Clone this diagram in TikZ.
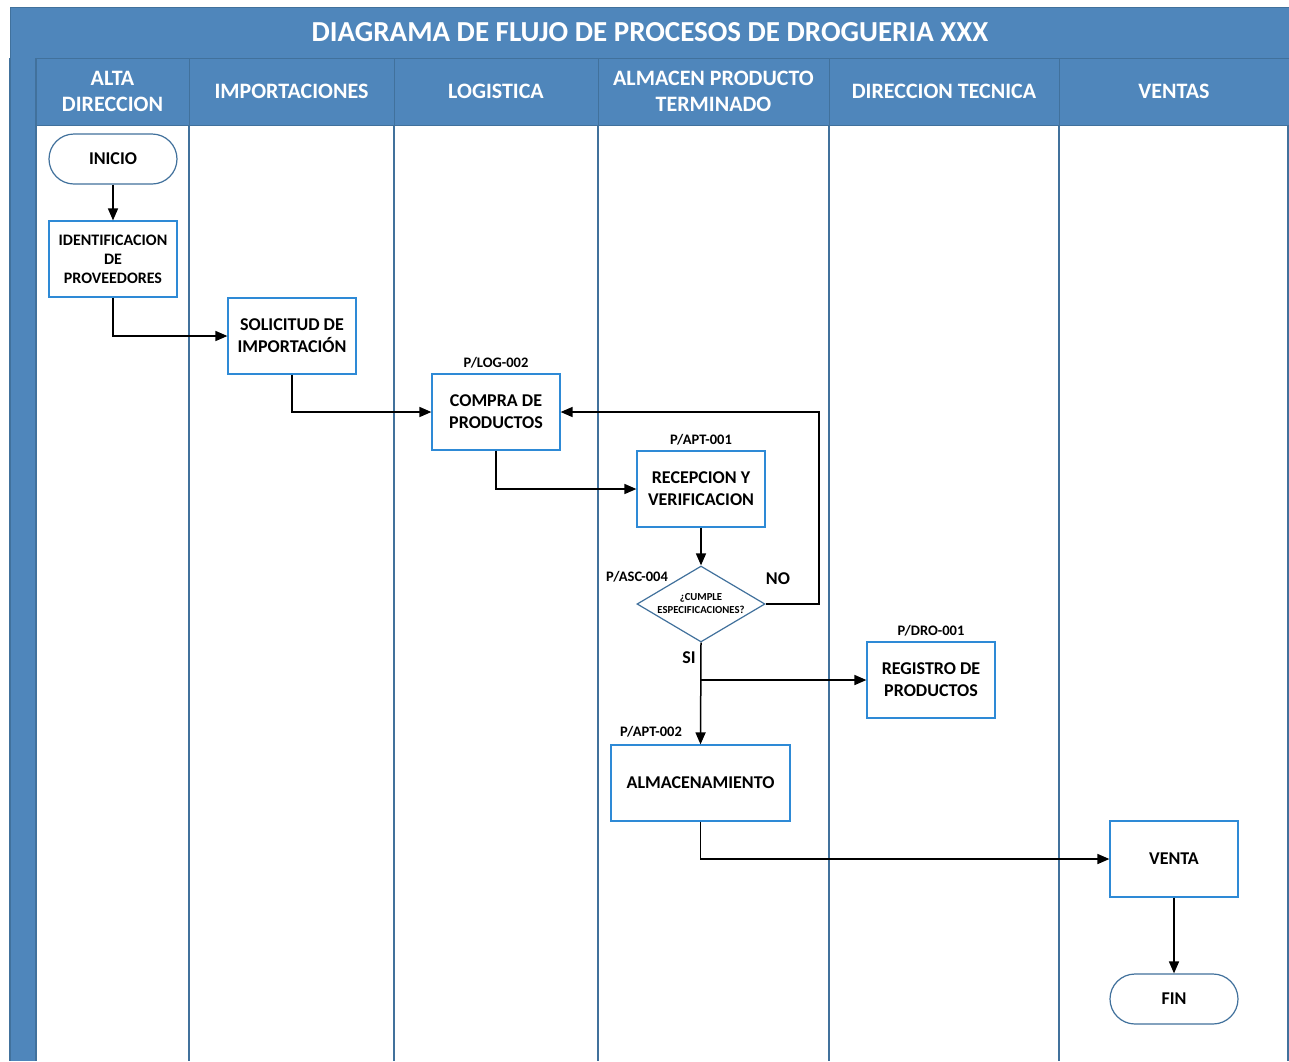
\documentclass[tikz,border=0pt]{standalone}
\usepackage{fontspec}
\setmainfont{Carlito}
\usetikzlibrary{arrows.meta,shapes.geometric}
\definecolor{lanefill}{HTML}{4F86BB}
\definecolor{laneedge}{HTML}{41719C}
\definecolor{boxedge}{HTML}{2E8AD6}
\begin{document}
\begin{tikzpicture}[x=1pt,y=-1pt,
  hdr/.style={fill=lanefill,draw=laneedge,line width=1pt,text=white,align=center,
    font=\bfseries\fontsize{22}{26}\selectfont,minimum height=67pt,inner sep=0pt},
  proc/.style={draw=boxedge,line width=1.2pt,fill=white,minimum width=128pt,
    minimum height=76pt,align=center,inner sep=2pt,
    font=\bfseries\fontsize{18}{22}\selectfont},
  term/.style={draw=laneedge,line width=1.2pt,fill=white,rounded corners=25pt,
    minimum width=128pt,minimum height=50pt,font=\bfseries\fontsize{18}{20}\selectfont},
  dec/.style={diamond,draw=laneedge,line width=1.2pt,fill=white,
    minimum width=128pt,minimum height=76pt,inner sep=0pt},
  code/.style={font=\bfseries\fontsize{14.5}{16}\selectfont,inner sep=0pt},
  arr/.style={line width=1.5pt,-{Triangle[length=12pt,width=10pt]}},
  lanesep/.style={draw=laneedge,line width=1.6pt}]
\useasboundingbox[fill=white] (0,0) rectangle (1289,1061);

% frame: title band and left strip
\fill[lanefill] (10,7) rectangle (1289,58);
\draw[laneedge,line width=1pt] (10,7) rectangle (1289,58);
\node[text=white,font=\bfseries\fontsize{29}{32}\selectfont] (title) at (650,32)
  {DIAGRAMA DE FLUJO DE PROCESOS DE DROGUERIA XXX};
\fill[lanefill] (10,58) rectangle (36,1061);
\draw[laneedge,line width=1.6pt] (10,58) -- (10,1061) (36,58) -- (36,1061);

% lane headers
\node[hdr,minimum width=153pt] (h1) at (112.5,91.5) {ALTA\\DIRECCION};
\node[hdr,minimum width=205pt] (h2) at (291.5,91.5) {IMPORTACIONES};
\node[hdr,minimum width=204pt] (h3) at (496,91.5) {LOGISTICA};
\node[hdr,minimum width=231pt] (h4) at (713.5,91.5) {ALMACEN PRODUCTO\\TERMINADO};
\node[hdr,minimum width=230pt] (h5) at (944,91.5) {DIRECCION TECNICA};
\node[hdr,minimum width=230pt] (h6) at (1174,91.5) {VENTAS};

% lane separators
\foreach \x in {189,394,598,829,1059,1288}
  \draw[lanesep] (\x,125) -- (\x,1061);

% flow nodes
\node[term] (inicio) at (113,159) {INICIO};
\node[proc,font=\bfseries\fontsize{16}{19}\selectfont] (ident) at (113,259)
  {IDENTIFICACION\\DE\\PROVEEDORES};
\node[proc] (solic) at (292,336) {SOLICITUD DE\\IMPORTACIÓN};
\node[proc] (compra) at (496,412) {COMPRA DE\\PRODUCTOS};
\node[proc] (recep) at (701,489) {RECEPCION Y\\VERIFICACION};
\node[dec,label={[font=\bfseries\fontsize{10.7}{13}\selectfont,align=center]center:¿CUMPLE\\ESPECIFICACIONES?}]
  (cumple) at (701,604) {};
\node[proc] (reg) at (931,680) {REGISTRO DE\\PRODUCTOS};
\node[proc,minimum width=179pt] (alm) at (700.5,783) {ALMACENAMIENTO};
\node[proc] (venta) at (1174,859) {VENTA};
\node[term] (fin) at (1174,999) {FIN};

% procedure codes and branch labels
\node[code] (c1) at (496,363) {P/LOG-002};
\node[code] (c2) at (701,440) {P/APT-001};
\node[code] (c3) at (637,577) {P/ASC-004};
\node[code] (c4) at (931,631) {P/DRO-001};
\node[code] (c5) at (651,732) {P/APT-002};
\node[font=\bfseries\fontsize{18}{20}\selectfont] (no) at (778,579) {NO};
\node[font=\bfseries\fontsize{18}{20}\selectfont] (si) at (689,658) {SI};

% connectors
\coordinate (loop) at (819,604);
\coordinate (split) at (701,680);
\draw[arr] (inicio) -- (ident);
\draw[arr] (ident.south) |- (solic.west);
\draw[arr] (solic.south) |- (compra.west);
\draw[arr] (compra.south) |- (recep.west);
\draw[arr] (recep) -- (cumple);
\draw[arr] (cumple.east) -- (loop) |- (compra.east);
\draw[arr] (cumple.south) -- (alm.north);
\draw[arr] (split) -- (reg.west);
\draw[arr] (alm.south) |- (venta.west);
\draw[arr] (venta) -- (fin);
\end{tikzpicture}
\end{document}
